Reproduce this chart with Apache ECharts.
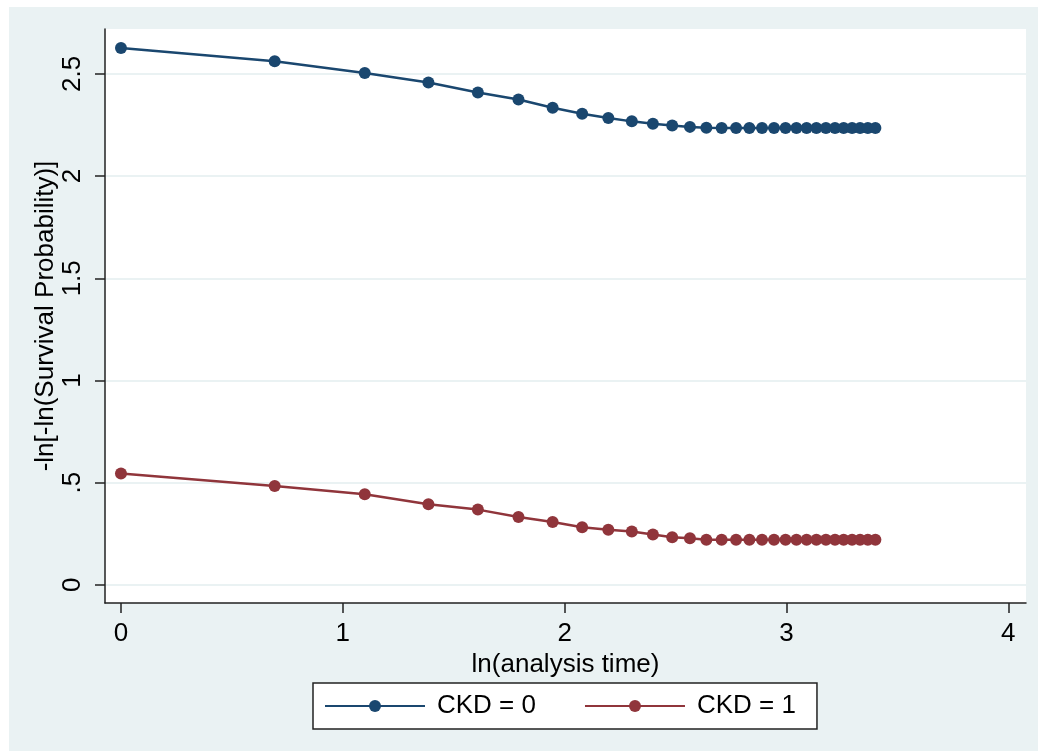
<!DOCTYPE html>
<html>
<head>
<meta charset="utf-8">
<script src="https://cdn.jsdelivr.net/npm/echarts@6/dist/echarts.min.js"></script>
<style>
  html, body { margin: 0; padding: 0; background: #fff; }
  #charts { position: absolute; left: 9px; top: 7px; width: 1029px; height: 744px; }
</style>
</head>
<body>
<div id="charts"></div>
<script>
// ln(analysis time) for each event time
var lnTime = [0, 0.693, 1.099, 1.386, 1.609, 1.792, 1.946, 2.079, 2.197, 2.303,
  2.398, 2.485, 2.565, 2.639, 2.708, 2.773, 2.833, 2.890, 2.944, 2.996,
  3.045, 3.091, 3.135, 3.178, 3.219, 3.258, 3.296, 3.332, 3.367, 3.401];
var ckd0 = [2.627, 2.562, 2.505, 2.458, 2.409, 2.375, 2.335, 2.305, 2.284, 2.268,
  2.256, 2.248, 2.241, 2.237, 2.236, 2.235, 2.235, 2.235, 2.235, 2.235,
  2.235, 2.235, 2.235, 2.235, 2.235, 2.235, 2.235, 2.235, 2.235, 2.235];
var ckd1 = [0.545, 0.483, 0.443, 0.394, 0.368, 0.332, 0.307, 0.282, 0.269, 0.261,
  0.246, 0.233, 0.228, 0.221, 0.220, 0.220, 0.220, 0.220, 0.220, 0.220,
  0.220, 0.220, 0.220, 0.220, 0.220, 0.220, 0.220, 0.220, 0.220, 0.220];
var xTicks = [0, 1, 2, 3, 4];
var yTicks = [0, 0.5, 1, 1.5, 2, 2.5];
var seriesNames = ['CKD = 0', 'CKD = 1'];

var font = 'Liberation Sans, Arial, sans-serif';

function pairs(ys) {
  return lnTime.map(function (x, i) { return [x, ys[i]]; });
}

function lineSeries(name, ys, color) {
  return {
    name: name,
    type: 'line',
    data: pairs(ys),
    symbol: 'circle',
    symbolSize: 12,
    lineStyle: { color: color, width: 2.5 },
    itemStyle: { color: color },
    emphasis: { disabled: true }
  };
}

var option = {
  backgroundColor: '#eaf2f3',
  animation: false,
  textStyle: { fontFamily: font, color: '#000' },
  grid: {
    left: 96, right: 12, top: 22, bottom: 148,
    show: true, backgroundColor: '#fff', borderWidth: 0
  },
  xAxis: {
    type: 'value',
    min: -0.072, max: 4.08,
    name: 'ln(analysis time)',
    nameLocation: 'middle',
    nameGap: 44,
    nameTextStyle: { fontSize: 26, color: '#000', fontFamily: font },
    axisLine: { show: true, onZero: false, lineStyle: { color: '#222', width: 1.5 } },
    axisTick: { show: true, length: 10, lineStyle: { color: '#222', width: 1.5 }, customValues: xTicks },
    axisLabel: { fontSize: 26, color: '#000', margin: 18, customValues: xTicks },
    splitLine: { show: false }
  },
  yAxis: {
    type: 'value',
    min: -0.089, max: 2.72,
    name: '-ln[-ln(Survival Probability)]',
    nameLocation: 'middle',
    nameRotate: 90,
    nameGap: 46,
    nameMoveOverlap: false,
    nameTextStyle: { fontSize: 26, color: '#000', fontFamily: font },
    axisLine: { show: true, onZero: false, lineStyle: { color: '#222', width: 1.5 } },
    axisTick: { show: true, length: 10, lineStyle: { color: '#222', width: 1.5 }, customValues: yTicks },
    axisLabel: {
      fontSize: 26, color: '#000', margin: 19, rotate: 90,
      customValues: yTicks,
      formatter: function (v) { return v === 0 ? '0' : String(v).replace(/^0\./, '.'); }
    },
    splitLine: { show: true, lineStyle: { color: '#eaf2f3', width: 2 } }
  },
  legend: {
    data: seriesNames,
    left: 304, top: 676,
    backgroundColor: '#fff',
    borderColor: '#222', borderWidth: 1.5, borderRadius: 0,
    padding: [10, 21, 10, 11],
    itemWidth: 100, itemHeight: 15, itemGap: 48,
    textStyle: { fontSize: 26, color: '#000', fontFamily: font, padding: [0, 0, 0, 7] }
  },
  series: [
    lineSeries(seriesNames[0], ckd0, '#1a476f'),
    lineSeries(seriesNames[1], ckd1, '#90353b')
  ]
};

var myChart = echarts.init(document.getElementById('charts'));
myChart.setOption(option);
</script>
</body>
</html>
